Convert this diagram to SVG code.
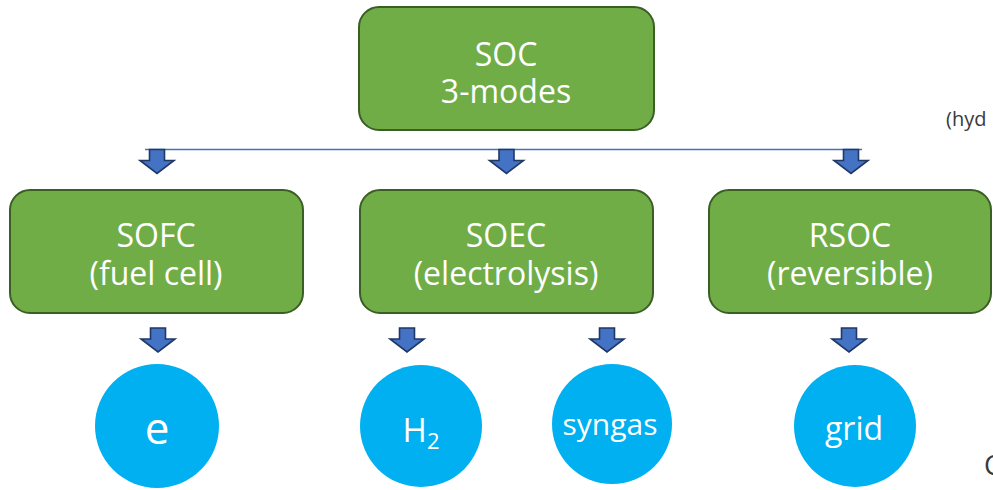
<svg xmlns="http://www.w3.org/2000/svg" width="993" height="490" viewBox="0 0 993 490">
<defs>
<style>
.box{fill:#70AD47;stroke:#3B5E25;stroke-width:2}
.circ{fill:#00B0F0}
.t{font-family:"Open Sans","Noto Sans",sans-serif;fill:#FFFFFF;text-anchor:middle}
.arr{fill:#4472C4;stroke:#1F3864;stroke-width:1.6;stroke-linejoin:miter}
.ghost{font-family:"Open Sans","Noto Sans",sans-serif;fill:#3a3a3a}
</style>
<path id="ar" d="M-7.5,0 H7.5 V11 H17 L0,24 L-17,11 H-7.5 Z"/>
</defs>
<rect width="993" height="490" fill="#FFFFFF"/>
<g id="connectors">
<line x1="145" y1="149.5" x2="862" y2="149.5" stroke="#4472C4" stroke-width="1.5"/>
<use href="#ar" class="arr" x="157" y="149.5"/>
<use href="#ar" class="arr" x="506.5" y="149.5"/>
<use href="#ar" class="arr" x="851" y="149.5"/>
<use href="#ar" class="arr" x="158" y="328"/>
<use href="#ar" class="arr" x="407" y="328"/>
<use href="#ar" class="arr" x="607" y="328"/>
<use href="#ar" class="arr" x="849" y="328"/>
</g>
<g id="soc">
<rect class="box" x="359" y="7" width="295" height="123" rx="20"/>
<text class="t" x="506" y="66" font-size="32">SOC</text>
<text class="t" x="506" y="103" font-size="32">3-modes</text>
</g>
<g id="sofc">
<rect class="box" x="10" y="190" width="293" height="123" rx="20"/>
<text class="t" x="156" y="247" font-size="32">SOFC</text>
<text class="t" x="156" y="285" font-size="32">(fuel cell)</text>
</g>
<g id="soec">
<rect class="box" x="360" y="190" width="293" height="123" rx="20"/>
<text class="t" x="506" y="247" font-size="32">SOEC</text>
<text class="t" x="506" y="285" font-size="32">(electrolysis)</text>
</g>
<g id="rsoc">
<rect class="box" x="709" y="190" width="282" height="123" rx="20"/>
<text class="t" x="850" y="247" font-size="32">RSOC</text>
<text class="t" x="850" y="285" font-size="32">(reversible)</text>
</g>
<g id="e">
<circle class="circ" cx="157" cy="426" r="62"/>
<text class="t" x="157" y="444" font-size="44">e</text>
</g>
<g id="h2">
<circle class="circ" cx="421" cy="426" r="61"/>
<text class="t" x="421" y="442" font-size="33">H<tspan font-size="22" dy="7">2</tspan></text>
</g>
<g id="syngas">
<circle class="circ" cx="612" cy="424" r="60"/>
<text class="t" x="610" y="435" font-size="30">syngas</text>
</g>
<g id="grid">
<circle class="circ" cx="855" cy="426" r="61"/>
<text class="t" x="854" y="440" font-size="32">grid</text>
</g>
<text class="ghost" x="946" y="126" font-size="20">(hyd</text>
<text class="ghost" x="984" y="475" font-size="27">C</text>
</svg>
